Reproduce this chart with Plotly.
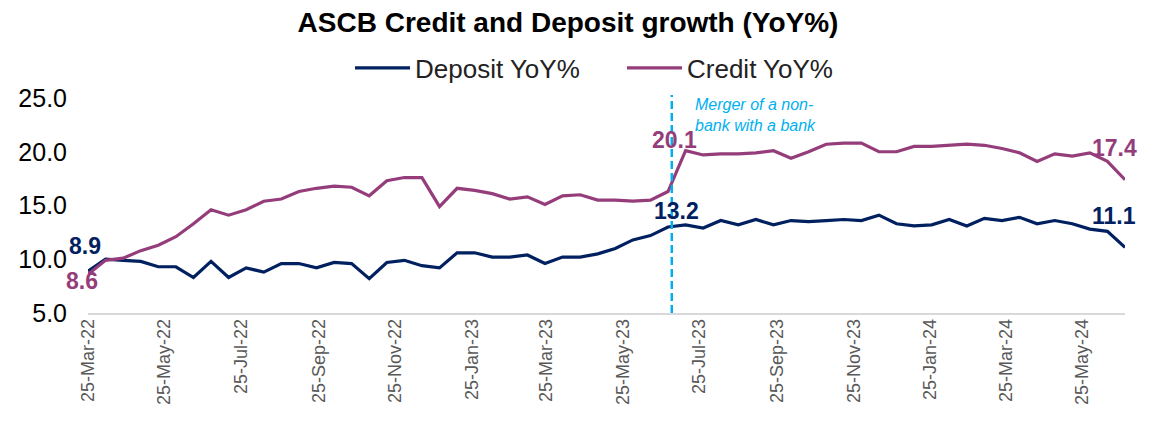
import plotly.graph_objects as go

dates = [
    "2022-03-25", "2022-04-08", "2022-04-22", "2022-05-06", "2022-05-20", "2022-06-03",
    "2022-06-17", "2022-07-01", "2022-07-15", "2022-07-29", "2022-08-12", "2022-08-26",
    "2022-09-09", "2022-09-23", "2022-10-07", "2022-10-21", "2022-11-04", "2022-11-18",
    "2022-12-02", "2022-12-16", "2022-12-30", "2023-01-13", "2023-01-27", "2023-02-10",
    "2023-02-24", "2023-03-10", "2023-03-24", "2023-04-07", "2023-04-21", "2023-05-05",
    "2023-05-19", "2023-06-02", "2023-06-16", "2023-06-30", "2023-07-14", "2023-07-28",
    "2023-08-11", "2023-08-25", "2023-09-08", "2023-09-22", "2023-10-06", "2023-10-20",
    "2023-11-03", "2023-11-17", "2023-12-01", "2023-12-15", "2023-12-29", "2024-01-12",
    "2024-01-26", "2024-02-09", "2024-02-23", "2024-03-08", "2024-03-22", "2024-04-05",
    "2024-04-19", "2024-05-03", "2024-05-17", "2024-05-31", "2024-06-14", "2024-06-28",
]

deposit_yoy = [
    8.9, 10.0, 9.9, 9.8, 9.3, 9.3, 8.3, 9.8, 8.3, 9.2,
    8.8, 9.6, 9.6, 9.2, 9.7, 9.6, 8.2, 9.7, 9.9, 9.4,
    9.2, 10.6, 10.6, 10.2, 10.2, 10.4, 9.6, 10.2, 10.2, 10.5,
    11.0, 11.8, 12.2, 13.0, 13.2, 12.9, 13.6, 13.2, 13.7, 13.2,
    13.6, 13.5, 13.6, 13.7, 13.6, 14.1, 13.3, 13.1, 13.2, 13.7,
    13.1, 13.8, 13.6, 13.9, 13.3, 13.6, 13.3, 12.8, 12.6, 11.1,
]

credit_yoy = [
    8.6, 9.9, 10.1, 10.8, 11.3, 12.1, 13.3, 14.6, 14.1, 14.6,
    15.4, 15.6, 16.3, 16.6, 16.8, 16.7, 15.9, 17.3, 17.6, 17.6,
    14.9, 16.6, 16.4, 16.1, 15.6, 15.8, 15.1, 15.9, 16.0, 15.5,
    15.5, 15.4, 15.5, 16.3, 20.1, 19.7, 19.8, 19.8, 19.9, 20.1,
    19.4, 20.0, 20.7, 20.8, 20.8, 20.0, 20.0, 20.5, 20.5, 20.6,
    20.7, 20.6, 20.3, 19.9, 19.1, 19.8, 19.6, 19.9, 19.1, 17.4,
]

tick_dates = [
    "2022-03-25", "2022-05-25", "2022-07-25", "2022-09-25", "2022-11-25",
    "2023-01-25", "2023-03-25", "2023-05-25", "2023-07-25", "2023-09-25",
    "2023-11-25", "2024-01-25", "2024-03-25", "2024-05-25",
]
tick_labels = [
    "25-Mar-22", "25-May-22", "25-Jul-22", "25-Sep-22", "25-Nov-22",
    "25-Jan-23", "25-Mar-23", "25-May-23", "25-Jul-23", "25-Sep-23",
    "25-Nov-23", "25-Jan-24", "25-Mar-24", "25-May-24",
]

merger_date = "2023-07-03"
merger_text = "Merger of a non-<br>bank with a bank"

NAVY = "#002060"
PLUM = "#943d7a"
CYAN = "#00b0f0"
FONT = "Liberation Sans, Arial, sans-serif"

# the page body has an 8px margin; figure is sized to fit the window
W, H = 1150, 421

fig = go.Figure()
fig.add_trace(go.Scatter(x=dates, y=deposit_yoy, mode="lines", name="Deposit YoY%",
                         line=dict(color=NAVY, width=3.2)))
fig.add_trace(go.Scatter(x=dates, y=credit_yoy, mode="lines", name="Credit YoY%",
                         line=dict(color=PLUM, width=3.2)))

fig.add_shape(type="line", xref="x", yref="paper", x0=merger_date, x1=merger_date,
              y0=0, y1=1.014, line=dict(color=CYAN, width=2.5, dash="8px,4px"))
fig.add_annotation(x=merger_date, xref="x", y=1.02, yref="paper", text="<i>" + merger_text + "</i>",
                   showarrow=False, xanchor="left", yanchor="top", align="left", xshift=21,
                   font=dict(family=FONT, size=16, color=CYAN))

def label(idx, series, color, xshift, yshift):
    fig.add_annotation(x=dates[idx], y=series[idx], text="<b>%.1f</b>" % series[idx],
                       showarrow=False, xshift=xshift, yshift=yshift,
                       font=dict(family=FONT, size=23, color=color))

label(0, deposit_yoy, NAVY, -3, 25)
label(0, credit_yoy, PLUM, -6, -7)
label(34, credit_yoy, PLUM, -11, 11)
label(34, deposit_yoy, NAVY, -9, 14)
label(-1, credit_yoy, PLUM, -11, 32)
label(-1, deposit_yoy, NAVY, -11, 31)

fig.update_layout(
    width=W, height=H,
    paper_bgcolor="white", plot_bgcolor="white",
    margin=dict(l=80, r=33, t=90, b=116, autoexpand=False),
    font=dict(family=FONT, color="#000000"),
    title=dict(text="<b>ASCB Credit and Deposit growth (YoY%)</b>", x=560 / W, xanchor="center",
               y=1 - 14 / H, yanchor="middle", font=dict(family=FONT, size=28, color="#000000")),
    legend=dict(orientation="h", xref="container", x=342 / W, xanchor="left",
                yref="container", y=1 - 60 / H, yanchor="middle",
                font=dict(family=FONT, size=26, color="#222222"),
                itemwidth=55, tracegroupgap=0, entrywidth=202, entrywidthmode="pixels"),
    showlegend=True,
)
fig.update_xaxes(type="date", range=[dates[0], dates[-1]], tickvals=tick_dates, ticktext=tick_labels,
                 tickangle=-90, tickfont=dict(family=FONT, size=18, color="#595959"),
                 showgrid=False, showline=True, linecolor="#d9d9d9", linewidth=1.5,
                 ticks="", zeroline=False, ticklabelstandoff=-3)
fig.update_yaxes(range=[5, 25], dtick=5, tick0=5, tickformat=".1f", showgrid=False,
                 showline=False, zeroline=False, ticks="", ticklabelstandoff=20,
                 tickfont=dict(family=FONT, size=25, color="#000000"))

fig.write_html("out.html")
